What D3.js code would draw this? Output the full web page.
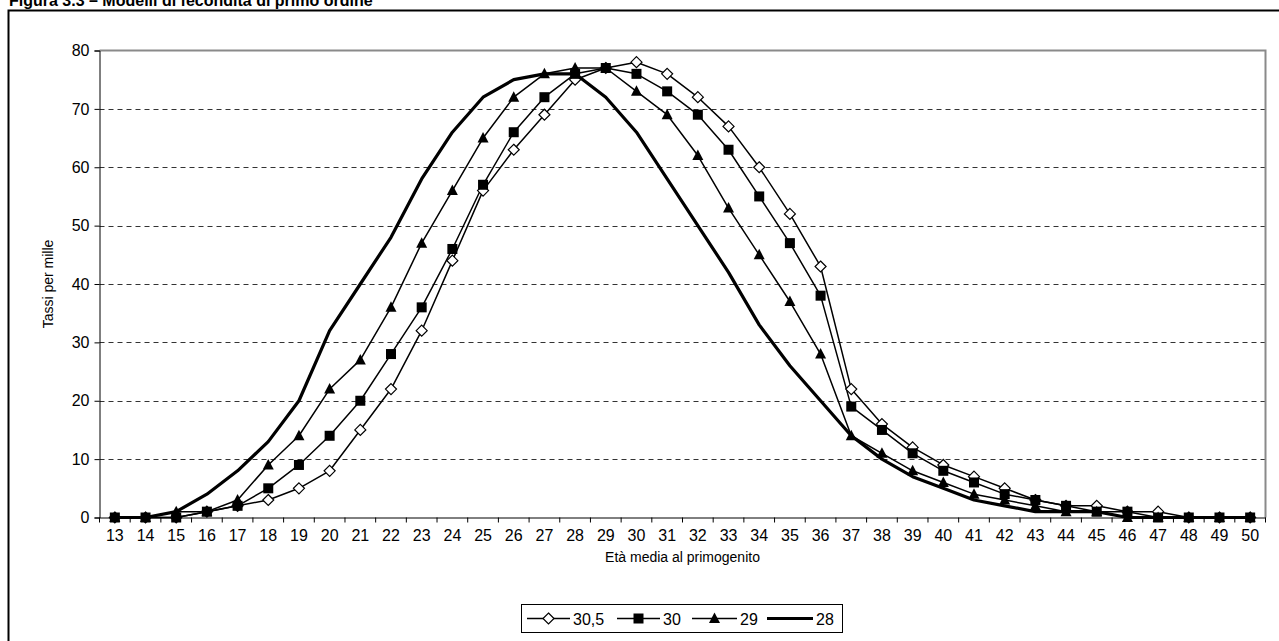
<!DOCTYPE html>
<html><head><meta charset="utf-8">
<script src="https://cdn.jsdelivr.net/npm/d3@7"></script>
<style>
html,body{margin:0;padding:0;background:#fff;overflow:hidden;}
svg{display:block;}
text{font-family:"Liberation Sans",Arial,sans-serif;fill:#000;}
</style></head>
<body>
<svg id="chart" width="1279" height="641"></svg>
<script>
const ages = d3.range(13, 51);
const s305 = [0,0,0,1,2,3,5,8,15,22,32,44,56,63,69,75,77,78,76,72,67,60,52,43,22,16,12,9,7,5,3,2,2,1,1,0,0,0];
const s30  = [0,0,0,1,2,5,9,14,20,28,36,46,57,66,72,76,77,76,73,69,63,55,47,38,19,15,11,8,6,4,3,2,1,1,0,0,0,0];
const s29  = [0,0,1,1,3,9,14,22,27,36,47,56,65,72,76,77,77,73,69,62,53,45,37,28,14,11,8,6,4,3,2,1,1,0,0,0,0,0];
const s28  = [0,0,1,4,8,13,20,32,40,48,58,66,72,75,76,76,72,66,58,50,42,33,26,20,14,10,7,5,3,2,1,1,1,0,0,0,0,0];
const seriesNames = ["30,5","30","29","28"];
const yTicks = [0,10,20,30,40,50,60,70,80];

(function(){
const svg = d3.select("#chart");
const pL = 99.5, pR = 1265.5, pT = 50.5, pB = 517.5;

// outer frame (only top and left edges fall inside the picture)
svg.append("path").attr("d","M8.5,700V10.5H1400")
  .attr("fill","none").attr("stroke","#000").attr("stroke-width",2);

// title
svg.append("text").attr("x",9).attr("y",5.5).attr("font-size",16).attr("font-weight","bold")
  .text("Figura 3.3 – Modelli di fecondità di primo ordine");

const x = d3.scaleBand().domain(ages).range([pL, pR]).padding(0);
const y = d3.scaleLinear().domain([0,80]).range([pB, pT]);

// gridlines
svg.append("g").selectAll("line").data(yTicks.filter(d=>d>0 && d<80)).join("line")
  .attr("x1",pL).attr("x2",pR).attr("y1",d=>Math.round(y(d))+0.5).attr("y2",d=>Math.round(y(d))+0.5)
  .attr("stroke","#333").attr("stroke-width",1).attr("stroke-dasharray","5,4");

// plot frame top/right
svg.append("path").attr("d",`M${pL},${pT}H${pR}V${pB}`)
  .attr("fill","none").attr("stroke","#8a8a8a").attr("stroke-width",2);

// y axis
const yAxis = d3.axisLeft(y).tickValues(yTicks).tickSize(5).tickPadding(5);
const gy = svg.append("g").attr("transform",`translate(${pL},0)`).call(yAxis);
gy.select(".domain").attr("stroke","#000");
gy.selectAll(".tick line").attr("stroke","#000");
gy.selectAll("text").attr("font-size",16).attr("font-family","Liberation Sans, Arial, sans-serif").attr("fill","#000");

// x axis
const xAxis = d3.axisBottom(x).tickSize(0).tickPadding(12);
const gx = svg.append("g").attr("transform",`translate(0,${pB})`).call(xAxis);
gx.select(".domain").attr("stroke","#000");
gx.selectAll("text").attr("font-size",16).attr("font-family","Liberation Sans, Arial, sans-serif").attr("fill","#000");
// ticks between categories
const bounds = ages.map(a=>x(a)).concat([x(ages[ages.length-1])+x.bandwidth()]);
svg.append("g").selectAll("line").data(bounds).join("line")
  .attr("x1",d=>d).attr("x2",d=>d).attr("y1",pB).attr("y2",pB+5)
  .attr("stroke","#000").attr("stroke-width",1);

// axis titles
svg.append("text").attr("x",(pL+pR)/2).attr("y",562).attr("text-anchor","middle")
  .attr("font-size",14).text("Età media al primogenito");
svg.append("text").attr("transform",`translate(53,${(pT+pB)/2}) rotate(-90)`)
  .attr("text-anchor","middle").attr("font-size",14).text("Tassi per mille");

const cx = a => x(a) + x.bandwidth()/2;
const line = d3.line().x((d,i)=>cx(ages[i])).y(d=>y(d));

const data = [s305, s30, s29, s28];
const widths = [1.5,1.5,1.5,3.2];
const g = svg.append("g");
data.forEach((s,k)=>{
  g.append("path").attr("d",line(s)).attr("fill","none").attr("stroke","#000")
    .attr("stroke-width",widths[k]).attr("stroke-linejoin","round");
});

function marker(sel, type){
  if(type===0){
    sel.append("path").attr("d","M0,-5.5L5.5,0L0,5.5L-5.5,0Z").attr("fill","#fff").attr("stroke","#000").attr("stroke-width",1.2);
  } else if(type===1){
    sel.append("rect").attr("x",-5).attr("y",-5).attr("width",10).attr("height",10).attr("fill","#000");
  } else if(type===2){
    sel.append("path").attr("d","M0,-6L5.5,4.5L-5.5,4.5Z").attr("fill","#000");
  }
}
[0,2,1].forEach(k=>{
  const s = data[k];
  s.forEach((v,i)=>{
    const m = g.append("g").attr("transform",`translate(${cx(ages[i])},${y(v)})`);
    marker(m,k);
  });
});

// legend
const lg = svg.append("g");
lg.append("rect").attr("x",521.5).attr("y",604.5).attr("width",321).attr("height",28)
  .attr("fill","#fff").attr("stroke","#000").attr("stroke-width",1);
const legendX = [527, 617, 692, 767];
const legendLen = [43, 43, 45, 46];
seriesNames.forEach((n,k)=>{
  const x0 = legendX[k], ly = 618.5;
  lg.append("line").attr("x1",x0).attr("x2",x0+legendLen[k]).attr("y1",ly).attr("y2",ly)
    .attr("stroke","#000").attr("stroke-width",widths[k]);
  if(k<3){ const m = lg.append("g").attr("transform",`translate(${x0+legendLen[k]/2},${ly})`); marker(m,k); }
  lg.append("text").attr("x",x0+legendLen[k]+3).attr("y",ly+6).attr("font-size",16).text(n);
});
})();
</script>
</body></html>
